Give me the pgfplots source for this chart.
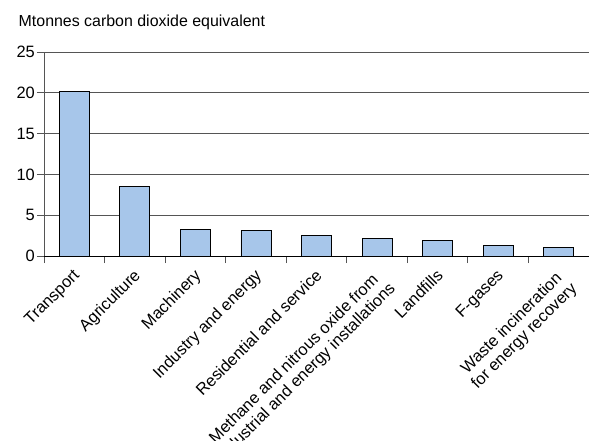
\documentclass[border=0pt]{standalone}
\usepackage{pgfplots}
\pgfplotsset{compat=1.18}
\usepackage{fontspec}
\setmainfont{Liberation Sans}
\definecolor{barblue}{HTML}{A7C6EA}
\definecolor{gridgray}{HTML}{555555}
\begin{document}
\fontsize{16.5}{18}\selectfont
\begin{tikzpicture}
\useasboundingbox (-44bp,-185bp) rectangle (545bp,256bp);
\begin{axis}[
  scale only axis,
  width=545bp, height=204bp,
  at={(0,0)}, anchor=south west,
  xmin=-0.5, xmax=8.5,
  ymin=0, ymax=25,
  ytick={0,5,10,15,20,25},
  xtick={0,1,2,3,4,5,6,7,8},
  xticklabels={Transport,Agriculture,Machinery,Industry and energy,Residential and service,{Methane and nitrous oxide from\\industrial and energy installations},Landfills,F-gases,{Waste incineration\\for energy recovery}},
  minor xtick={-0.5,0.5,1.5,2.5,3.5,4.5,5.5,6.5,7.5},
  major x tick style={draw=none},
  minor tick length=7bp,
  major tick length=7bp,
  tick align=outside,
  axis x line*=bottom,
  axis y line*=left,
  axis line style={-},
  x axis line style={black, line width=1pt},
  y axis line style={gridgray, line width=1pt},
  every tick/.style={gridgray, line width=0.8pt},
  ymajorgrids,
  grid style={gridgray, line width=0.8pt},
  xticklabel style={rotate=45, anchor=north east, align=center, font=\fontsize{16.5}{18}\selectfont, inner sep=1pt, yshift=-1bp, xshift=-4bp},
  yticklabel style={font=\fontsize{16.5}{18}\selectfont, inner sep=2pt},
  /pgf/number format/assume math mode=true,
  ybar,
  bar width=30bp,
]
\addplot[fill=barblue, draw=black, line width=0.8pt] coordinates {
  (0,20.2) (1,8.5) (2,3.3) (3,3.1) (4,2.5) (5,2.1) (6,1.9) (7,1.3) (8,1.1)
};
\end{axis}
\node[anchor=base west, font=\fontsize{16}{18}\selectfont] at (-31bp,229bp) {Mtonnes carbon dioxide equivalent};
\end{tikzpicture}
\end{document}
